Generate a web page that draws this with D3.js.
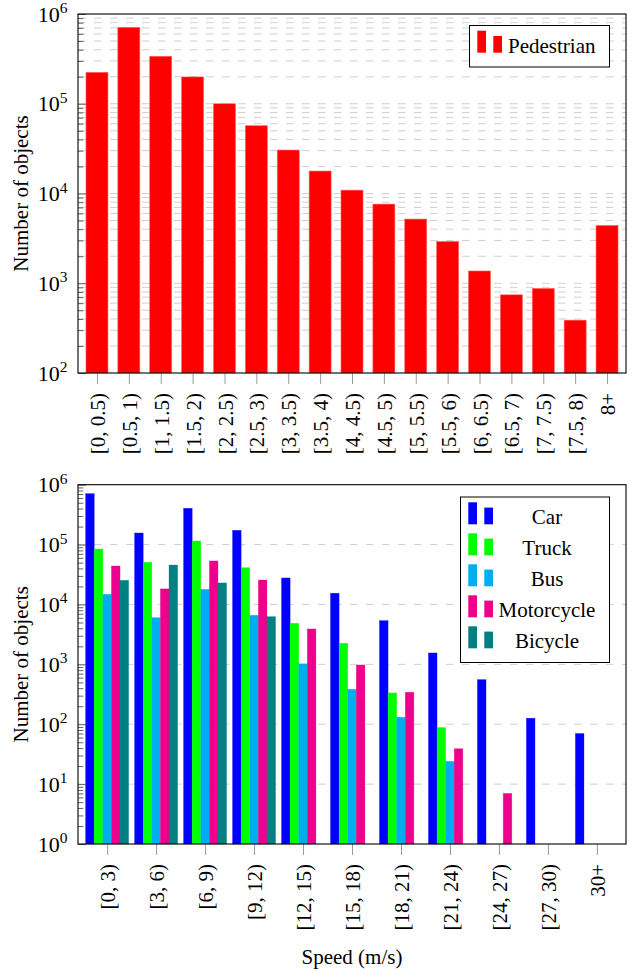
<!DOCTYPE html>
<html>
<head>
<meta charset="utf-8">
<script src="https://cdn.jsdelivr.net/npm/d3@7"></script>
<style>
  body { margin: 0; background: #fff; }
  svg { display: block; }
</style>
</head>
<body>
<svg id="chart" width="637" height="973"></svg>
<script>
// ---------- data ----------
const pedCategories = ["[0, 0.5)", "[0.5, 1)", "[1, 1.5)", "[1.5, 2)", "[2, 2.5)", "[2.5, 3)", "[3, 3.5)", "[3.5, 4)", "[4, 4.5)", "[4.5, 5)", "[5, 5.5)", "[5.5, 6)", "[6, 6.5)", "[6.5, 7)", "[7, 7.5)", "[7.5, 8)", "8+"];
const pedestrian = [224000, 710000, 338000, 199000, 100000, 56900, 30500, 17800, 10900, 7620, 5190, 2920, 1370, 743, 875, 388, 4410];

const vehCategories = ["[0, 3)", "[3, 6)", "[6, 9)", "[9, 12)", "[12, 15)", "[15, 18)", "[18, 21)", "[21, 24)", "[24, 27)", "[27, 30)", "30+"];
const seriesNames = ["Car", "Truck", "Bus", "Motorcycle", "Bicycle"];
const car        = [708000, 156000, 404000, 173000, 27700, 15400, 5370, 1550, 556, 126, 70];
const truck      = [84400, 50600, 115000, 41100, 4850, 2250, 333, 88, null, null, null];
const bus        = [14800, 6020, 17900, 6600, 1020, 384, 131, 24, null, null, null];
const motorcycle = [43900, 18200, 53300, 25600, 3900, 977, 342, 39, 7, null, null];
const bicycle    = [25300, 45600, 22900, 6260, null, null, null, null, null, null, null];
const seriesColors = ["#0000ff", "#00ff00", "#00adef", "#ec008c", "#008080"];

const topTicks = [1e2, 1e3, 1e4, 1e5, 1e6];
const bottomTicks = [1e0, 1e1, 1e2, 1e3, 1e4, 1e5, 1e6];

// ---------- helpers ----------
const FONT = "'Liberation Serif', 'Times New Roman', serif";
const svg = d3.select("#chart");
const X0 = 78, X1 = 626;

function minorValues(lo, hi) {
  const out = [];
  for (let e = Math.log10(lo); e < Math.log10(hi); e++) {
    for (let m = 2; m <= 9; m++) out.push(m * Math.pow(10, e));
  }
  return out;
}

function drawPanel(opts) {
  const { top, bottom, domain, majors, categories, minorGrid, xLabel } = opts;
  const g = svg.append("g");
  const y = d3.scaleLog().domain(domain).range([bottom, top]);
  const x = d3.scalePoint().domain(categories).range([X0, X1]).padding(0.595);

  // grid lines
  const gridVals = minorGrid ? majors.concat(minorValues(domain[0], domain[1])) : majors;
  g.append("g").selectAll("line")
    .data(gridVals.filter(v => v > domain[0] && v < domain[1]))
    .join("line")
    .attr("x1", X0).attr("x2", X1)
    .attr("y1", d => y(d)).attr("y2", d => y(d))
    .attr("stroke", "#cfcfcf").attr("stroke-width", 1)
    .attr("stroke-dasharray", "7.5,8.5");

  const bars = g.append("g");

  // y axis (ticks inside)
  const yAxisG = g.append("g").attr("transform", `translate(${X0},0)`);
  yAxisG.call(d3.axisLeft(y).tickValues(minorValues(domain[0], domain[1])).tickSizeInner(-5.3).tickSizeOuter(0).tickFormat(""));
  const yMaj = g.append("g").attr("transform", `translate(${X0},0)`);
  yMaj.call(d3.axisLeft(y).tickValues(majors).tickSizeInner(-8).tickSizeOuter(0).tickPadding(10.5).tickFormat(""));
  [yAxisG, yMaj].forEach(a => {
    a.select(".domain").remove();
    a.selectAll(".tick line").attr("stroke", "#555").attr("stroke-width", 0.9);
  });
  yMaj.selectAll(".tick text").each(function(d) {
    const t = d3.select(this).attr("font-size", 22).attr("dy", "0.32em")
      .style("font-family", FONT).attr("fill", "#000");
    t.text(null);
    t.append("tspan").text("10");
    t.append("tspan").attr("font-size", 15.5).attr("dy", "-0.55em").text(String(Math.round(Math.log10(d))));
  });

  // x axis
  const xAxisG = g.append("g").attr("transform", `translate(0,${bottom})`);
  xAxisG.call(d3.axisBottom(x).tickSizeInner(11).tickSizeOuter(0));
  xAxisG.select(".domain").remove();
  xAxisG.selectAll(".tick line").attr("stroke", "#999").attr("stroke-width", 1);
  xAxisG.selectAll(".tick text")
    .attr("font-size", 21)
    .attr("fill", "#000")
    .attr("transform", "rotate(-90)")
    .attr("x", -20).attr("y", 0).attr("dy", "0.36em")
    .attr("text-anchor", "end")
    .style("font-family", FONT);

  // frame
  g.append("rect").attr("x", X0).attr("y", top).attr("width", X1 - X0).attr("height", bottom - top)
    .attr("fill", "none").attr("stroke", "#000").attr("stroke-width", 1.1);

  // y label
  g.append("text")
    .attr("transform", `translate(21,${(top + bottom) / 2}) rotate(-90)`)
    .attr("text-anchor", "middle").attr("dy", "0.35em")
    .attr("font-size", 21).style("font-family", FONT).text("Number of objects");

  if (xLabel) {
    g.append("text").attr("x", (X0 + X1) / 2).attr("y", 964)
      .attr("text-anchor", "middle").attr("font-size", 21).style("font-family", FONT).text(xLabel);
  }
  return { g, x, y, bars, bottom };
}

// ---------- top panel: pedestrians ----------
const P1 = drawPanel({ top: 14, bottom: 373, domain: [1e2, 1e6], majors: topTicks, categories: pedCategories, minorGrid: true });
const bw1 = 22;
P1.bars.selectAll("rect")
  .data(pedCategories.map((c, i) => ({ c, v: pedestrian[i] })))
  .join("rect")
  .attr("x", d => P1.x(d.c) - bw1 / 2)
  .attr("width", bw1)
  .attr("y", d => P1.y(d.v))
  .attr("height", d => P1.bottom - P1.y(d.v))
  .attr("fill", "#ff0000")
  .attr("stroke", "#ff6666").attr("stroke-width", 0.6);

// legend top
const L1 = svg.append("g");
L1.append("rect").attr("x", 469.5).attr("y", 25.5).attr("width", 140).attr("height", 41.5)
  .attr("fill", "#fff").attr("stroke", "#000").attr("stroke-width", 1);
L1.append("rect").attr("x", 477.3).attr("y", 30.7).attr("width", 8.7).attr("height", 22).attr("fill", "#ff0000");
L1.append("rect").attr("x", 493.3).attr("y", 36).attr("width", 8.7).attr("height", 16.7).attr("fill", "#ff0000");
L1.append("text").attr("x", 508).attr("y", 52.7).attr("font-size", 21).style("font-family", FONT).text("Pedestrian");

// ---------- bottom panel: vehicles ----------
const P2 = drawPanel({ top: 484.7, bottom: 844, domain: [1e0, 1e6], majors: bottomTicks, categories: vehCategories, minorGrid: false, xLabel: "Speed (m/s)" });
const allSeries = [car, truck, bus, motorcycle, bicycle];
const bw2 = 8.6;
const flat = [];
allSeries.forEach((arr, s) => arr.forEach((v, i) => { if (v != null) flat.push({ s, c: vehCategories[i], v }); }));
P2.bars.selectAll("rect")
  .data(flat)
  .join("rect")
  .attr("x", d => P2.x(d.c) + (d.s - 2.5) * bw2)
  .attr("width", bw2)
  .attr("y", d => P2.y(d.v))
  .attr("height", d => P2.bottom - P2.y(d.v))
  .attr("fill", d => seriesColors[d.s])
  .attr("stroke", d => seriesColors[d.s]).attr("stroke-opacity", 0.5).attr("stroke-width", 0.6);

// legend bottom
const L2 = svg.append("g");
L2.append("rect").attr("x", 460.5).attr("y", 497).attr("width", 149).attr("height", 165.5)
  .attr("fill", "#fff").attr("stroke", "#000").attr("stroke-width", 1);
seriesNames.forEach((name, i) => {
  const base = 524.3 + i * 31;
  L2.append("rect").attr("x", 468.3).attr("y", base - 22).attr("width", 8.7).attr("height", 22).attr("fill", seriesColors[i]);
  L2.append("rect").attr("x", 484.3).attr("y", base - 16.7).attr("width", 8.7).attr("height", 16.7).attr("fill", seriesColors[i]);
  L2.append("text").attr("x", 547).attr("y", base).attr("text-anchor", "middle").attr("font-size", 21).style("font-family", FONT).text(name);
});
</script>
</body>
</html>
